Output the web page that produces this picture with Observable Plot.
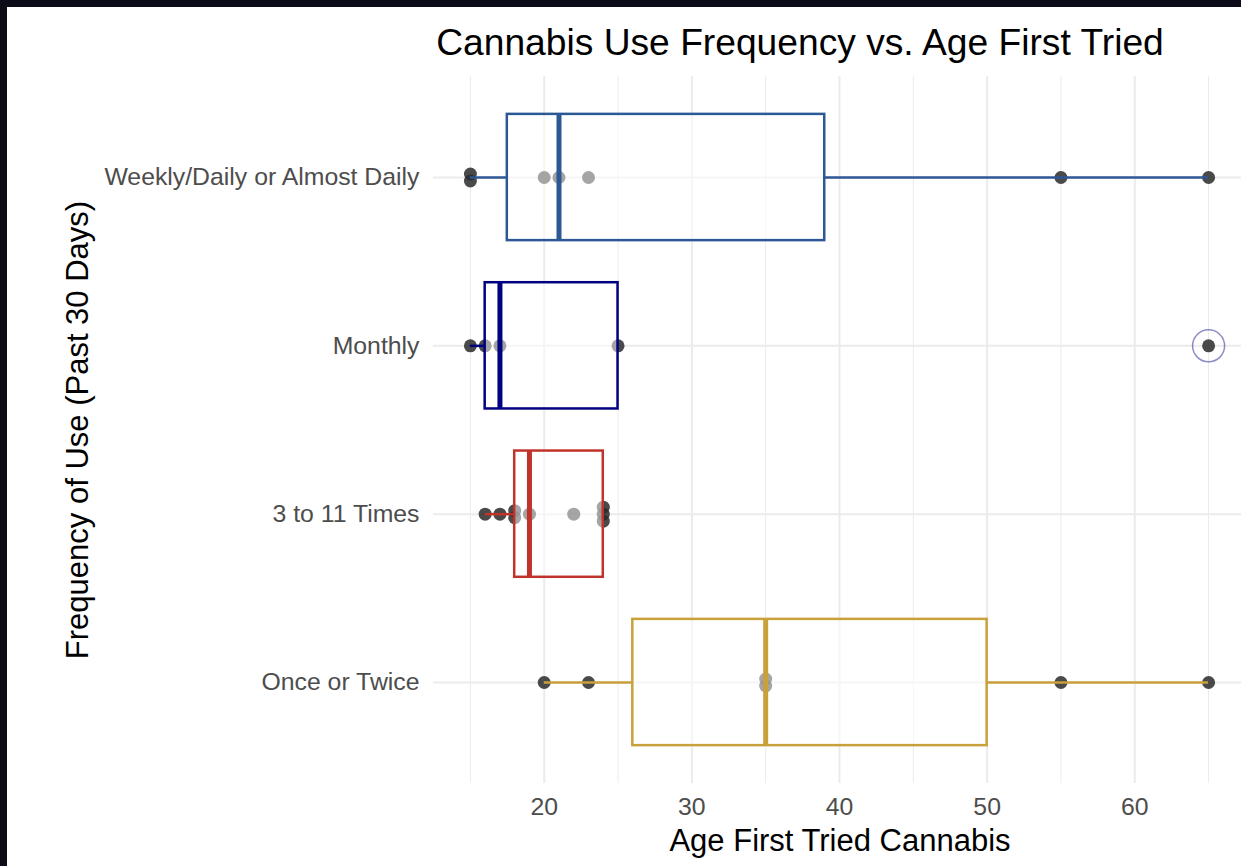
<!DOCTYPE html>
<html><head><meta charset="utf-8">
<script src="https://cdn.jsdelivr.net/npm/d3@7"></script>
<script src="https://cdn.jsdelivr.net/npm/@observablehq/plot@0.6"></script>
<style>
html,body{margin:0;padding:0;background:#0b0c17;width:1241px;height:866px;overflow:hidden}
#frame{position:absolute;left:7px;top:7px;width:1234px;height:859px;background:#fff;overflow:hidden}
#frame svg{max-width:none !important;width:1240px;height:859px}
</style></head><body><div id="frame"></div>
<script>
const categories = ["Weekly/Daily or Almost Daily", "Monthly", "3 to 11 Times", "Once or Twice"];
const weeklyAges = [15, 15, 20, 21, 23, 55, 65];
const monthlyAges = [15, 16, 17, 25, 65];
const times3to11Ages = [16, 17, 18, 18, 19, 22, 24, 24, 24];
const onceTwiceAges = [20, 23, 35, 35, 55, 65];
const boxColors = ["#2c5896", "#000080", "#c0332b", "#c9a13b"];
const xTicks = [20, 30, 40, 50, 60];
const xMinorTicks = [15, 25, 35, 45, 55, 65];
const titleText = "Cannabis Use Frequency vs. Age First Tried";
const xTitle = "Age First Tried Cannabis";
const yTitle = "Frequency of Use (Past 30 Days)";

const groups = [weeklyAges, monthlyAges, times3to11Ages, onceTwiceAges];
const stats = categories.map((cat, i) => {
  const v = groups[i].slice().sort(d3.ascending);
  const q1 = d3.quantile(v, 0.25), med = d3.quantile(v, 0.5), q3 = d3.quantile(v, 0.75);
  const iqr = q3 - q1;
  const inside = v.filter(d => d >= q1 - 1.5 * iqr && d <= q3 + 1.5 * iqr);
  const out = v.filter(d => d < q1 - 1.5 * iqr || d > q3 + 1.5 * iqr);
  return {cat, q1, med, q3, lo: d3.min(inside), hi: d3.max(inside), out, color: boxColors[i]};
});
const outliers = stats.flatMap(s => s.out.map(x => ({cat: s.cat, age: x, color: s.color})));

// stack identical values slightly (like the jitter in the original)
const points = [];
categories.forEach((cat, i) => {
  const counts = d3.rollup(groups[i], v => v.length, d => d);
  const seen = new Map();
  groups[i].forEach(age => {
    const c = counts.get(age), k = seen.get(age) || 0;
    seen.set(age, k + 1);
    points.push({cat, age, slot: k - (c - 1) / 2});
  });
});
const slots = Array.from(new Set(points.map(d => d.slot)));

const grid = "#ebebeb";
const svg = Plot.plot({
  width: 1240, height: 859,
  marginLeft: 426, marginRight: 2, marginTop: 69, marginBottom: 83,
  style: {fontFamily: "'Liberation Sans', Arial, sans-serif", background: "transparent", overflow: "visible", maxWidth: "none"},
  x: {domain: [12.5, 67.5]},
  y: {domain: categories, paddingInner: 0.25, paddingOuter: 0.225, round: false},
  color: {type: "identity"},
  marks: [
    Plot.ruleX(xMinorTicks, {stroke: grid, strokeWidth: 1}),
    Plot.ruleX(xTicks, {stroke: grid, strokeWidth: 2}),
    Plot.ruleY(categories, {y: d => d, stroke: grid, strokeWidth: 2}),
    ...slots.map(s => Plot.dot(points.filter(d => d.slot === s), {x: "age", y: "cat", dy: s * 7, r: 6.5, fill: "#2a2a2a", fillOpacity: 0.85, stroke: "none"})),
    Plot.ruleY(stats, {x1: "lo", x2: "q1", y: "cat", stroke: "color", strokeWidth: 2.5}),
    Plot.ruleY(stats, {x1: "q3", x2: "hi", y: "cat", stroke: "color", strokeWidth: 2.5}),
    Plot.barX(stats, {x1: "q1", x2: "q3", y: "cat", fill: "white", fillOpacity: 0.5, stroke: "color", strokeWidth: 2.5}),
    Plot.tickX(stats, {x: "med", y: "cat", stroke: "color", strokeWidth: 5}),
    Plot.dot(outliers, {x: "age", y: "cat", r: 16, fill: "none", stroke: "color", strokeOpacity: 0.45, strokeWidth: 1.5}),
    Plot.axisX(xTicks, {tickSize: 0, tickPadding: 14, fontSize: 24.8, color: "#4d4d4d", label: null}),
    Plot.axisY({tickSize: 0, tickPadding: 14, fontSize: 24.8, color: "#4d4d4d", label: null})
  ]
});
document.getElementById("frame").appendChild(svg);
const s = d3.select(svg);
const ff = "'Liberation Sans', Arial, sans-serif";
s.append("text").attr("x", 793).attr("y", 48).attr("text-anchor", "middle")
  .attr("font-size", 37.2).attr("font-family", ff).attr("fill", "#000").text(titleText);
s.append("text").attr("x", 833).attr("y", 844).attr("text-anchor", "middle")
  .attr("font-size", 31).attr("font-family", ff).attr("fill", "#000").text(xTitle);
s.append("text").attr("transform", "translate(81,423) rotate(-90)").attr("text-anchor", "middle")
  .attr("font-size", 31).attr("font-family", ff).attr("fill", "#000").text(yTitle);
</script></body></html>
